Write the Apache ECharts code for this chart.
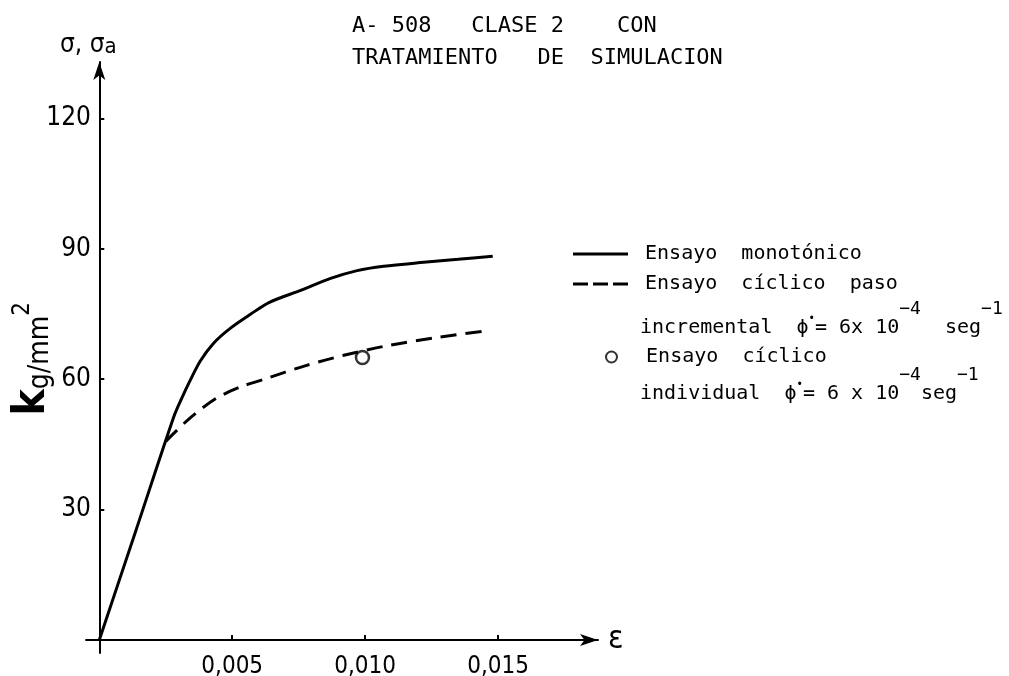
<!DOCTYPE html>
<html>
<head>
<meta charset="utf-8">
<script src="https://cdn.jsdelivr.net/npm/echarts@6/dist/echarts.min.js"></script>
<style>
  html, body { margin: 0; padding: 0; background: #fff; }
  #chart { width: 1009px; height: 676px; }
</style>
</head>
<body>
<div id="chart"></div>
<script>
const NARROW = "'Liberation Sans Narrow', 'DejaVu Sans Condensed', Roboto, sans-serif";
const MONO = "'DejaVu Sans Mono', 'Liberation Mono', monospace";

// monotonic test (solid)
const monoStrain = [0, 0.0014, 0.0028, 0.0031, 0.0034, 0.0038, 0.0043, 0.0049, 0.0057, 0.0064, 0.0076, 0.0087, 0.0097, 0.0107, 0.0122, 0.0135, 0.0148];
const monoStress = [0, 25.6, 51.3, 55.6, 59.5, 64.2, 68.3, 71.6, 75, 77.7, 80.5, 83.2, 85, 86, 86.9, 87.6, 88.3];

// cyclic incremental step test (dashed)
const cyclicStrain = [0.0025, 0.0034, 0.0044, 0.0053, 0.0062, 0.0078, 0.0092, 0.0109, 0.0128, 0.0144];
const cyclicStress = [45.7, 51, 55.6, 58.2, 60, 63.2, 65.5, 67.8, 69.7, 71];

// cyclic individual test (circle)
const singleStrain = [0.0099];
const singleStress = [65];

const xTicks = [0.005, 0.010, 0.015];
const yTicks = [30, 60, 90, 120];

const names = [
  'Ensayo  monotónico',
  'Ensayo  cíclico  paso',
  'Ensayo  cíclico'
];

const zip = (xs, ys) => xs.map((x, i) => [x, ys[i]]);

const chart = echarts.init(document.getElementById('chart'));

const supRich = {
  b: { fontFamily: MONO, fontSize: 20, color: '#000', verticalAlign: 'bottom', lineHeight: 38 },
  d: { fontFamily: NARROW, fontSize: 12, color: '#000', verticalAlign: 'top', lineHeight: 38, padding: [13, 0, 0, 0] },
  s: { fontFamily: MONO, fontSize: 18, color: '#000', verticalAlign: 'top', lineHeight: 38 }
};

chart.setOption({
  animation: false,
  backgroundColor: '#fff',
  title: {
    text: 'A- 508   CLASE 2    CON\nTRATAMIENTO   DE  SIMULACION',
    left: 347,
    top: 5,
    textStyle: { fontFamily: MONO, fontSize: 22, fontWeight: 'normal', color: '#000', lineHeight: 32 }
  },
  grid: { left: 86, right: 411, top: 62, bottom: 23, outerBoundsMode: 'none' },
  legend: [
    {
      data: [
        { name: names[0], icon: 'path://M0,0h55v3h-55z' },
        { name: names[1], icon: 'path://M0,0h15v3h-15z M20,0h15v3h-15z M40,0h15v3h-15z' }
      ],
      orient: 'vertical',
      left: 568,
      top: 239,
      itemWidth: 55,
      itemHeight: 3,
      itemGap: 10,
      formatter: ' {name}',
      textStyle: { fontFamily: MONO, fontSize: 20, color: '#000' }
    },
    {
      data: [names[2]],
      left: 600,
      top: 342,
      itemWidth: 11,
      itemHeight: 11,
      formatter: '  {name}',
      textStyle: { fontFamily: MONO, fontSize: 20, color: '#000' }
    }
  ],
  graphic: [
    {
      type: 'text',
      left: 640,
      top: 300,
      style: {
        text: '{b|incremental  ϕ}{d|•}{b|= 6x 10}{s|−4}{b|  seg}{s|−1}',
        rich: supRich
      }
    },
    {
      type: 'text',
      left: 640,
      top: 366,
      style: {
        text: '{b|individual  ϕ}{d|•}{b|= 6 x 10}{s|−4}{b|seg}{s|−1}',
        rich: supRich
      }
    },
    {
      type: 'text',
      left: 11,
      top: 302,
      rotation: Math.PI / 2,
      style: {
        text: '{k|k}{g|g/mm}{p|2}',
        rich: {
          k: { fontFamily: NARROW, fontSize: 44, fontWeight: 'bold', color: '#000', verticalAlign: 'bottom', lineHeight: 44 },
          g: { fontFamily: NARROW, fontSize: 28, color: '#000', verticalAlign: 'bottom', lineHeight: 44 },
          p: { fontFamily: NARROW, fontSize: 24, color: '#000', verticalAlign: 'top', lineHeight: 44 }
        }
      }
    }
  ],
  xAxis: {
    type: 'value',
    min: -0.0005,
    max: 0.01876,
    name: 'ε',
    nameLocation: 'end',
    nameGap: 10,
    nameTextStyle: { fontFamily: NARROW, fontSize: 32, color: '#000', verticalAlign: 'middle' },
    splitLine: { show: false },
    axisLine: {
      onZero: true,
      symbol: ['none', 'arrow'],
      symbolSize: [9, 18],
      lineStyle: { color: '#000', width: 2 }
    },
    axisTick: { inside: true, length: 5, customValues: xTicks, lineStyle: { color: '#000', width: 2 } },
    axisLabel: {
      customValues: xTicks,
      margin: 2,
      fontFamily: NARROW,
      fontSize: 24,
      color: '#000',
      formatter: (v) => v.toFixed(3).replace('.', ',')
    }
  },
  yAxis: {
    type: 'value',
    min: -3,
    max: 133,
    name: '{a|σ, σ}{sub|a}',
    nameLocation: 'end',
    nameGap: 4,
    nameTextStyle: {
      padding: [0, 22, 0, 0],
      rich: {
        a: { fontFamily: NARROW, fontSize: 26, color: '#000', verticalAlign: 'bottom', lineHeight: 28 },
        sub: { fontFamily: NARROW, fontSize: 22, color: '#000', verticalAlign: 'bottom', lineHeight: 24 }
      }
    },
    splitLine: { show: false },
    axisLine: {
      onZero: true,
      symbol: ['none', 'arrow'],
      symbolSize: [9, 18],
      lineStyle: { color: '#000', width: 2 }
    },
    axisTick: { inside: true, length: 5, customValues: yTicks, lineStyle: { color: '#000', width: 2 } },
    axisLabel: {
      customValues: yTicks,
      margin: -5,
      fontFamily: NARROW,
      fontSize: 26,
      color: '#000'
    }
  },
  series: [
    {
      name: names[0],
      type: 'line',
      data: zip(monoStrain, monoStress),
      smooth: 0.3,
      symbol: 'none',
      lineStyle: { color: '#000', width: 3 },
      itemStyle: { color: '#000' }
    },
    {
      name: names[1],
      type: 'line',
      data: zip(cyclicStrain, cyclicStress),
      smooth: 0.3,
      symbol: 'none',
      lineStyle: { color: '#000', width: 3, type: [16, 9] },
      itemStyle: { color: '#000' }
    },
    {
      name: names[2],
      type: 'scatter',
      data: zip(singleStrain, singleStress),
      symbol: 'circle',
      symbolSize: 13,
      itemStyle: { color: '#fff', borderColor: '#000', borderWidth: 2.5 }
    }
  ]
});
</script>
</body>
</html>
